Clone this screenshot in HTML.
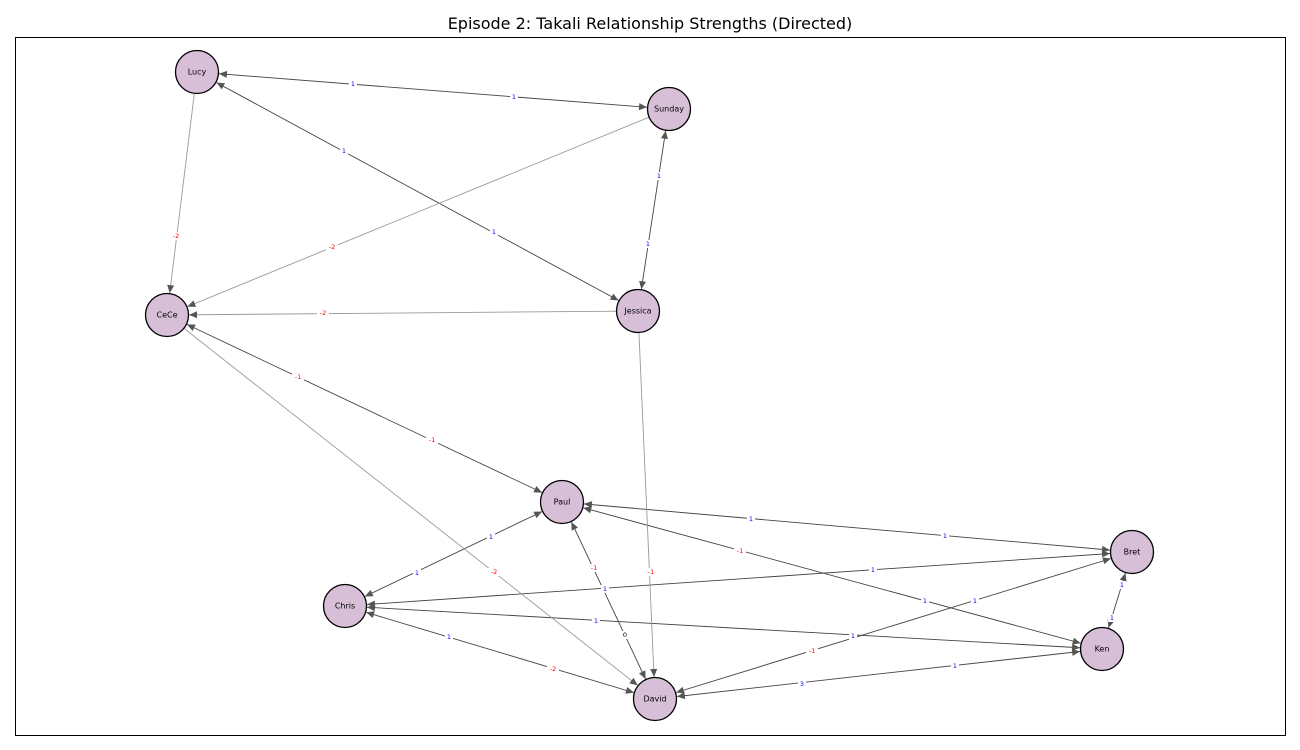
<!DOCTYPE html>
<html><head><meta charset="utf-8">
<style>
html,body{margin:0;padding:0;background:#fff;}
svg{display:block;}
text{font-family:"DejaVu Sans","Liberation Sans",sans-serif;}
</style></head><body>
<svg width="1300" height="750" viewBox="0 0 1300 750" xmlns="http://www.w3.org/2000/svg">
<defs>
<marker id="a" markerUnits="userSpaceOnUse" markerWidth="40" markerHeight="12" refX="30" refY="3.5" orient="auto-start-reverse" style="overflow:visible">
<path d="M0,0 L8,3.5 L0,7 Z" fill="#555"/>
</marker>
</defs>
<rect width="1300" height="750" fill="#fff"/>
<text x="650" y="29" font-size="16" text-anchor="middle" fill="#000">Episode 2: Takali Relationship Strengths (Directed)</text>
<rect x="15.5" y="37.5" width="1270" height="698" fill="none" stroke="#000" stroke-width="1"/>

<g stroke-width="0.9" fill="none">
<!-- bidirectional dark -->
<line x1="197" y1="72" x2="669" y2="109" stroke="#444" marker-start="url(#a)" marker-end="url(#a)"/>
<line x1="197" y1="72" x2="638" y2="311" stroke="#444" marker-start="url(#a)" marker-end="url(#a)"/>
<line x1="669" y1="109" x2="638" y2="311" stroke="#444" marker-start="url(#a)" marker-end="url(#a)"/>
<line x1="167" y1="315" x2="562" y2="502" stroke="#444" marker-start="url(#a)" marker-end="url(#a)"/>
<line x1="562" y1="502" x2="345" y2="606" stroke="#444" marker-start="url(#a)" marker-end="url(#a)"/>
<line x1="562" y1="502" x2="655" y2="699" stroke="#444" marker-start="url(#a)" marker-end="url(#a)"/>
<line x1="562" y1="502" x2="1132" y2="552" stroke="#444" marker-start="url(#a)" marker-end="url(#a)"/>
<line x1="562" y1="502" x2="1102" y2="649" stroke="#444" marker-start="url(#a)" marker-end="url(#a)"/>
<line x1="345" y1="606" x2="1132" y2="552" stroke="#444" marker-start="url(#a)" marker-end="url(#a)"/>
<line x1="345" y1="606" x2="1102" y2="649" stroke="#444" marker-start="url(#a)" marker-end="url(#a)"/>
<line x1="345" y1="606" x2="655" y2="699" stroke="#444" marker-start="url(#a)" marker-end="url(#a)"/>
<line x1="655" y1="699" x2="1132" y2="552" stroke="#444" marker-start="url(#a)" marker-end="url(#a)"/>
<line x1="655" y1="699" x2="1102" y2="649" stroke="#444" marker-start="url(#a)" marker-end="url(#a)"/>
<line x1="1132" y1="552" x2="1102" y2="649" stroke="#444" marker-start="url(#a)" marker-end="url(#a)"/>
<!-- one-way gray -->
<line x1="197" y1="72" x2="167" y2="315" stroke="#999" marker-end="url(#a)"/>
<line x1="669" y1="109" x2="167" y2="315" stroke="#999" marker-end="url(#a)"/>
<line x1="638" y1="311" x2="167" y2="315" stroke="#999" marker-end="url(#a)"/>
<line x1="167" y1="315" x2="655" y2="699" stroke="#999" marker-end="url(#a)"/>
<line x1="638" y1="311" x2="655" y2="699" stroke="#999" marker-end="url(#a)"/>
</g>

<g font-size="6.5" text-anchor="middle" dominant-baseline="central">
<g>
<rect x="349" y="80" width="8" height="8" fill="#fff"/><text x="353" y="84" fill="#00f">1</text>
<rect x="510" y="93" width="8" height="8" fill="#fff"/><text x="514" y="97" fill="#00f">1</text>
<rect x="340" y="147" width="8" height="8" fill="#fff"/><text x="344" y="151" fill="#00f">1</text>
<rect x="490" y="228" width="8" height="8" fill="#fff"/><text x="494" y="232" fill="#00f">1</text>
<rect x="655" y="172" width="8" height="8" fill="#fff"/><text x="659" y="176" fill="#00f">1</text>
<rect x="644" y="240" width="8" height="8" fill="#fff"/><text x="648" y="244" fill="#00f">1</text>
<rect x="170" y="232" width="12" height="8" fill="#fff"/><text x="176" y="236" fill="#f00">-2</text>
<rect x="326" y="243" width="12" height="8" fill="#fff"/><text x="332" y="247" fill="#f00">-2</text>
<rect x="317" y="309" width="12" height="8" fill="#fff"/><text x="323" y="313" fill="#f00">-2</text>
<rect x="292" y="373" width="12" height="8" fill="#fff"/><text x="298" y="377" fill="#f00">-1</text>
<rect x="426" y="436" width="12" height="8" fill="#fff"/><text x="432" y="440" fill="#f00">-1</text>
<rect x="488" y="568" width="12" height="8" fill="#fff"/><text x="494" y="572" fill="#f00">-2</text>
<rect x="645" y="568" width="12" height="8" fill="#fff"/><text x="651" y="572" fill="#f00">-1</text>
<rect x="487" y="533" width="8" height="8" fill="#fff"/><text x="491" y="537" fill="#00f">1</text>
<rect x="413" y="569" width="8" height="8" fill="#fff"/><text x="417" y="573" fill="#00f">1</text>
<rect x="588" y="564" width="12" height="8" fill="#fff"/><text x="594" y="568" fill="#f00">-1</text>
<rect x="621" y="631" width="8" height="8" fill="#fff"/><text x="625" y="635" fill="#000">0</text>
<rect x="747" y="515" width="8" height="8" fill="#fff"/><text x="751" y="519" fill="#00f">1</text>
<rect x="941" y="532" width="8" height="8" fill="#fff"/><text x="945" y="536" fill="#00f">1</text>
<rect x="734" y="547" width="12" height="8" fill="#fff"/><text x="740" y="551" fill="#f00">-1</text>
<rect x="921" y="597" width="8" height="8" fill="#fff"/><text x="925" y="601" fill="#00f">1</text>
<rect x="601" y="585" width="8" height="8" fill="#fff"/><text x="605" y="589" fill="#00f">1</text>
<rect x="869" y="566" width="8" height="8" fill="#fff"/><text x="873" y="570" fill="#00f">1</text>
<rect x="592" y="617" width="8" height="8" fill="#fff"/><text x="596" y="621" fill="#00f">1</text>
<rect x="849" y="632" width="8" height="8" fill="#fff"/><text x="853" y="636" fill="#00f">1</text>
<rect x="445" y="633" width="8" height="8" fill="#fff"/><text x="449" y="637" fill="#00f">1</text>
<rect x="547" y="665" width="12" height="8" fill="#fff"/><text x="553" y="669" fill="#f00">-2</text>
<rect x="806" y="647" width="12" height="8" fill="#fff"/><text x="812" y="651" fill="#f00">-1</text>
<rect x="971" y="597" width="8" height="8" fill="#fff"/><text x="975" y="601" fill="#00f">1</text>
<rect x="798" y="680" width="8" height="8" fill="#fff"/><text x="802" y="684" fill="#00f">3</text>
<rect x="951" y="662" width="8" height="8" fill="#fff"/><text x="955" y="666" fill="#00f">1</text>
<rect x="1118" y="581" width="8" height="8" fill="#fff"/><text x="1122" y="585" fill="#00f">1</text>
<rect x="1108" y="614" width="8" height="8" fill="#fff"/><text x="1112" y="618" fill="#00f">1</text>
</g>
</g>

<g fill="#d8bfd8" stroke="#000" stroke-width="1.3">
<circle cx="197" cy="72" r="21.5"/>
<circle cx="669" cy="109" r="21.5"/>
<circle cx="167" cy="315" r="21.5"/>
<circle cx="638" cy="311" r="21.5"/>
<circle cx="562" cy="502" r="21.5"/>
<circle cx="1132" cy="552" r="21.5"/>
<circle cx="345" cy="606" r="21.5"/>
<circle cx="1102" cy="649" r="21.5"/>
<circle cx="655" cy="699" r="21.5"/>
</g>
<g font-size="8" text-anchor="middle" dominant-baseline="central" fill="#000">
<text x="197" y="72">Lucy</text>
<text x="669" y="109">Sunday</text>
<text x="167" y="315">CeCe</text>
<text x="638" y="311">Jessica</text>
<text x="562" y="502">Paul</text>
<text x="1132" y="552">Bret</text>
<text x="345" y="606">Chris</text>
<text x="1102" y="649">Ken</text>
<text x="655" y="699">David</text>
</g>
</svg>
</body></html>
